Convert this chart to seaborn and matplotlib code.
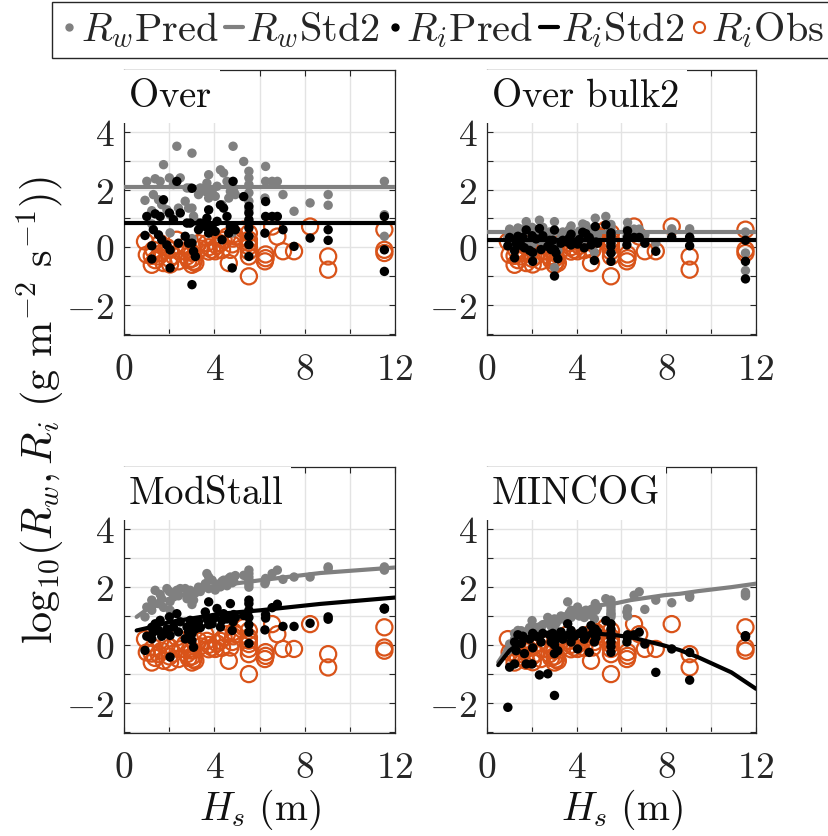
import numpy as np
import pandas as pd
import matplotlib
matplotlib.use('Agg')
import matplotlib.pyplot as plt
import seaborn as sns
from matplotlib.lines import Line2D

# ---------------- data ----------------
hs = [0.93, 1.01, 1.23, 1.23, 1.30, 1.38, 1.53, 1.60, 1.67, 1.75,
      1.90, 2.01, 2.04, 2.04, 2.19, 2.34, 2.41, 2.49, 2.71, 2.79,
      2.86, 2.93, 3.01, 3.01, 3.01, 3.08, 3.16, 3.30, 3.38, 3.60,
      3.67, 3.75, 3.75, 3.90, 4.04, 4.12, 4.27, 4.34, 4.41, 4.56,
      4.64, 4.71, 4.79, 4.83, 4.86, 4.93, 5.30, 5.53, 5.53, 5.53,
      5.53, 5.53, 5.53, 5.53, 6.24, 6.27, 6.27, 6.56, 6.79, 7.04,
      7.53, 8.24, 9.04, 9.04, 11.53, 11.53, 11.53]

ri_obs = [0.20, -0.26, -0.61, -0.30, -0.09, -0.45, -0.32, 0.14, -0.20, -0.55,
          0.00, -0.40, -0.09, -0.60, -0.30, 0.26, -0.49, -0.15, 0.03, -0.32,
          -0.45, -0.14, -0.61, -0.40, -0.20, -0.50, -0.55, 0.14, -0.05, 0.37,
          0.14, -0.15, 0.00, -0.09, -0.14, 0.05, 0.14, -0.10, 0.25, 0.37,
          -0.55, -0.09, 0.10, 0.30, 0.45, 0.37, 0.61, 0.49, 0.26, 0.03,
          -0.14, -0.32, 0.15, -1.01, -0.49, -0.38, -0.25, 0.72, 0.37, -0.14,
          -0.14, 0.72, -0.32, -0.78, 0.61, -0.09, -0.20]

ri_over = [0.41, 1.07, 0.05, -0.41, 0.61, 1.16, 0.43, 1.07, 0.26, 1.65,
           0.08, 1.19, -0.09, -0.72, 0.96, 2.29, 0.14, 1.19, 0.38, 0.84,
           0.14, 0.84, 2.05, 0.14, -1.30, -0.14, -0.32, 0.61, 0.84, 0.72,
           1.01, 1.30, 0.49, 0.72, 0.55, 0.90, 1.47, 0.26, 1.36, 1.07,
           0.49, 0.72, -0.72, 2.29, 0.72, 0.61, 1.76, 1.42, 1.19, 0.96,
           0.67, 0.38, 0.09, -0.32, 0.49, 1.07, 1.59, 1.07, 1.07, 0.61,
           0.03, 0.32, 0.61, 0.24, 1.07, -0.09, -0.84]
rw_over = [1.63, 2.29, 1.27, 0.81, 1.83, 2.38, 1.65, 2.29, 1.48, 2.87,
           1.30, 2.41, 1.13, 0.50, 2.18, 3.51, 1.36, 2.41, 1.60, 2.06,
           1.36, 2.06, 3.27, 1.36, 0.30, 1.08, 0.90, 1.83, 2.06, 1.94,
           2.23, 2.52, 1.71, 1.94, 1.77, 2.12, 2.69, 1.48, 2.58, 2.29,
           1.71, 1.94, 0.50, 3.51, 1.94, 1.83, 2.98, 2.64, 2.41, 2.18,
           1.89, 1.60, 1.31, 0.90, 1.71, 2.29, 2.81, 2.29, 2.29, 1.83,
           1.25, 1.54, 1.83, 1.46, 2.29, 1.13, 0.38]

ri_bulk2 = [0.05, 0.34, -0.12, -0.37, 0.14, 0.38, 0.06, 0.34, -0.02, 0.60,
            -0.11, 0.40, -0.18, -0.49, 0.29, 0.65, -0.08, 0.40, 0.03, 0.24,
            -0.08, 0.24, 0.60, -0.08, -1.00, -0.20, -0.40, 0.14, 0.24, 0.18,
            0.32, 0.45, 0.08, 0.18, 0.11, 0.27, 0.52, -0.02, 0.47, 0.34,
            0.08, 0.18, -0.46, 0.72, 0.18, 0.14, 0.78, 0.50, 0.40, 0.29,
            0.16, 0.03, -0.20, -0.49, 0.08, 0.34, 0.57, 0.34, 0.34, 0.14,
            -0.14, 0.35, 0.35, 0.05, 0.24, -0.49, -1.10]
rw_bulk2 = [0.34, 0.63, 0.17, -0.08, 0.43, 0.67, 0.35, 0.63, 0.27, 0.89,
            0.18, 0.69, 0.11, -0.20, 0.58, 0.94, 0.21, 0.69, 0.32, 0.53,
            0.21, 0.53, 0.89, 0.21, -0.71, 0.09, -0.11, 0.43, 0.53, 0.47,
            0.61, 0.74, 0.37, 0.47, 0.40, 0.56, 0.81, 0.27, 0.76, 0.63,
            0.37, 0.47, -0.17, 1.01, 0.47, 0.43, 1.07, 0.79, 0.69, 0.58,
            0.45, 0.32, 0.09, -0.20, 0.37, 0.63, 0.86, 0.63, 0.63, 0.43,
            0.15, 0.64, 0.64, 0.34, 0.53, -0.20, -0.81]

ri_modstall = [-0.19, 0.30, 0.21, 0.61, 0.45, 0.73, 0.50, 0.85, 0.30, 0.39,
               0.55, 0.97, 0.33, -0.42, 0.62, 1.08, 0.45, 0.80, 0.21, 0.62,
               0.45, 0.85, 0.73, 0.15, 0.39, -0.08, 0.55, 0.80, 0.60, 1.14,
               0.90, 1.49, 0.70, 0.73, 0.95, 1.26, 0.62, 0.85, 1.08, 0.90,
               1.00, 1.43, 0.50, 0.80, 1.05, 0.95, 1.02, 1.55, 1.43, 1.20,
               0.95, 0.70, 0.45, 0.05, 0.52, 0.93, 1.05, 1.29, 1.41, 0.64,
               0.64, 0.75, 0.97, 0.89, 1.26, 1.24, 1.27]
rw_modstall = [0.97, 1.31, 1.20, 1.55, 1.40, 1.89, 1.43, 1.75, 1.60, 1.30,
               1.95, 1.85, 1.50, 1.20, 1.66, 1.89, 1.70, 1.95, 1.95, 1.60,
               1.75, 1.89, 1.55, 1.70, 1.40, 1.55, 1.80, 2.00, 1.85, 2.12,
               2.47, 2.35, 1.95, 2.24, 1.90, 2.10, 2.01, 2.20, 2.24, 2.05,
               2.30, 2.35, 2.15, 2.30, 2.20, 2.40, 2.41, 2.59, 2.47, 2.35,
               2.20, 2.10, 2.00, 2.25, 2.12, 2.30, 2.20, 2.47, 2.59, 2.27,
               2.35, 2.35, 2.70, 2.65, 2.70, 2.59, 2.65]

ri_mincog = [-2.16, -0.77, -0.66, 0.10, -0.20, 0.35, 0.05, 0.30, -0.30, -0.66,
             0.20, -0.66, 0.40, -0.10, 0.30, -1.04, 0.10, 0.40, -1.00, 0.35,
             0.10, 0.40, -1.75, 0.00, -0.30, 0.20, -0.20, 0.45, 0.20, 0.73,
             0.35, 0.10, 0.50, 0.30, -0.14, 0.40, 0.49, 0.20, 0.30, -0.26,
             0.67, 0.40, 0.10, 0.55, 0.25, 0.45, 0.84, 0.73, 0.55, 0.40,
             0.25, 0.10, -0.05, -0.26, 0.10, 0.35, 0.25, 0.35, 0.44, 0.03,
             -0.95, -0.14, -0.26, -1.22, 0.30, 0.28, 0.32]
rw_mincog = [-0.20, 0.03, 0.20, 0.40, 0.30, 0.50, 0.49, 0.40, 0.30, 0.45,
             0.60, 0.84, 0.50, 0.40, 0.60, 0.55, 0.61, 0.70, 0.95, 0.75,
             0.65, 0.80, 0.70, 0.60, 0.90, 0.75, 0.85, 1.00, 0.90, 1.49,
             1.10, 0.95, 1.20, 1.05, 1.31, 1.00, 1.15, 0.95, 1.20, 1.05,
             1.10, 1.25, 0.90, 1.43, 1.20, 1.30, 1.60, 1.55, 1.40, 1.31,
             1.20, 1.10, 0.97, 1.05, 1.14, 1.00, 1.25, 1.72, 1.84, 1.23,
             1.55, 1.46, 1.70, 1.65, 1.82, 1.70, 1.76]

# Std2 fit curves
flat_hs = [0.0, 12.0]
over_rw_std = [2.10, 2.10]
over_ri_std = [0.84, 0.84]
bulk2_rw_std = [0.53, 0.53]
bulk2_ri_std = [0.24, 0.24]
modstall_hs = [0.56, 1.0, 1.6, 2.0, 3.5, 4.27, 6.05, 8.7, 12.0]
modstall_rw_std = [0.97, 1.22, 1.49, 1.60, 1.95, 2.06, 2.24, 2.49, 2.68]
modstall_ri_std = [0.50, 0.58, 0.70, 0.79, 0.98, 1.08, 1.20, 1.42, 1.64]
mincog_hs = [0.5, 1.0, 1.5, 2.0, 2.7, 3.5, 4.9, 5.8, 6.4, 7.9, 8.6, 9.4, 10.9, 12.0]
mincog_rw_std = [-0.60, 0.00, 0.35, 0.60, 0.85, 1.07, 1.36, 1.45, 1.55, 1.72, 1.77, 1.86, 2.00, 2.12]
mincog_ri_std = [-0.70, -0.20, 0.10, 0.25, 0.36, 0.40, 0.39, 0.33, 0.27, -0.02, -0.18, -0.42, -0.95, -1.52]

panel_titles = ['Over', 'Over bulk2', 'ModStall', 'MINCOG']
x_ticks = [0, 2, 4, 6, 8, 10, 12]
x_ticklabels = ['0', '', '4', '', '8', '', '12']
y_ticks = [-3, -2, -1, 0, 1, 2, 3, 4]
y_ticklabels = ['', '-2', '', '0', '', '2', '', '4']

legend_labels = [r'$R_w\mathrm{Pred}$', r'$R_w\mathrm{Std2}$',
                 r'$R_i\mathrm{Pred}$', r'$R_i\mathrm{Std2}$', r'$R_i\mathrm{Obs}$']

# ---------------- style ----------------
sns.set_theme(style='whitegrid')
plt.rcParams['font.family'] = ['DejaVu Serif']
plt.rcParams['mathtext.fontset'] = 'cm'

GRAY = '#808080'
BLACK = '#000000'
ORANGE = '#D95319'
FS = 27
LFS = 29

W, H = 829, 836
fig = plt.figure(figsize=(W / 100, H / 100), dpi=100)
fig.patch.set_facecolor('white')

def frac(l, t, r, b):
    return [l / W, 1 - b / H, (r - l) / W, (b - t) / H]

boxes = [frac(124, 70, 395, 335), frac(487, 70, 756, 335),
         frac(124, 467, 395, 733), frac(487, 467, 756, 733)]

panels = [
    (rw_over, ri_over, flat_hs, over_rw_std, over_ri_std),
    (rw_bulk2, ri_bulk2, flat_hs, bulk2_rw_std, bulk2_ri_std),
    (rw_modstall, ri_modstall, modstall_hs, modstall_rw_std, modstall_ri_std),
    (rw_mincog, ri_mincog, mincog_hs, mincog_rw_std, mincog_ri_std),
]

def mt(s):
    return '$' + s + '$' if s else ''

for k, (box, (rw, ri, lhs, rws, ris), title) in enumerate(zip(boxes, panels, panel_titles)):
    ax = fig.add_axes(box)
    ax.set_facecolor('white')
    df = pd.DataFrame({'Hs': hs, 'Rw': rw, 'Ri': ri, 'Obs': ri_obs})
    ldf = pd.DataFrame({'Hs': lhs, 'Rw': rws, 'Ri': ris})

    sns.scatterplot(data=df, x='Hs', y='Obs', ax=ax, s=135, marker='o',
                    facecolors='none', edgecolor=ORANGE, linewidth=1.6, zorder=2)
    sns.scatterplot(data=df, x='Hs', y='Rw', ax=ax, s=46, color=GRAY,
                    edgecolor='none', linewidth=0, zorder=3)
    sns.lineplot(data=ldf, x='Hs', y='Rw', ax=ax, color=GRAY, lw=3,
                 sort=False, estimator=None, zorder=4)
    sns.scatterplot(data=df, x='Hs', y='Ri', ax=ax, s=46, color=BLACK,
                    edgecolor='none', linewidth=0, zorder=5)
    sns.lineplot(data=ldf, x='Hs', y='Ri', ax=ax, color=BLACK, lw=3,
                 sort=False, estimator=None, zorder=6)

    ax.set_xlim(0, 12)
    ax.set_ylim(-3.05, 6.16)
    ax.set_xticks(x_ticks)
    ax.set_xticklabels([mt(s) for s in x_ticklabels], fontsize=FS)
    ax.set_yticks(y_ticks)
    ax.set_yticklabels([mt(s) for s in y_ticklabels], fontsize=FS)
    ax.set_xlabel('')
    ax.set_ylabel('')
    ax.grid(True, color='#e3e3e3', lw=1.0)
    ax.tick_params(axis='both', direction='in', length=4, width=0.8,
                   color='#262626', top=True, right=True, bottom=True, left=True,
                   labelcolor='#262626')
    ax.tick_params(axis='x', pad=12)
    ax.tick_params(axis='y', pad=7)
    for sp in ax.spines.values():
        sp.set_color('#262626')
        sp.set_linewidth(0.9)
        sp.set_zorder(2.5)
    ax.text(0.015, 0.86, r'$\mathrm{' + title.replace(' ', r'\ ') + '}$',
            transform=ax.transAxes, ha='left', va='baseline', fontsize=28,
            color='#111111', zorder=10,
            bbox=dict(boxstyle='square,pad=0.2', facecolor='white', edgecolor='none'))

fig.text(40 / W, 1 - 410 / H,
         r'$\mathrm{log}_{10}(R_w, R_i\ (\mathrm{g\ m}^{-2}\ \mathrm{s}^{-1}))$',
         rotation=90, ha='center', va='center', fontsize=30.5, color='#111111')
for cx in [(124 + 395) / 2, (487 + 756) / 2]:
    fig.text(cx / W, 1 - 810 / H, r'$H_s\ (\mathrm{m})$', ha='center', va='center',
             fontsize=28.5, color='#111111')

handles = [
    Line2D([], [], marker='o', color=GRAY, linestyle='', markersize=5),
    Line2D([], [], color=GRAY, lw=3),
    Line2D([], [], marker='o', color=BLACK, linestyle='', markersize=5),
    Line2D([], [], color=BLACK, lw=3),
    Line2D([], [], marker='o', linestyle='', markersize=8, markerfacecolor='none',
           markeredgecolor=ORANGE, markeredgewidth=1.5),
]
leg = fig.legend(handles, legend_labels, loc='upper left',
                 bbox_to_anchor=(52 / W, 1 - 2 / H), ncol=5, frameon=True,
                 fancybox=False, fontsize=LFS, handlelength=0.46, handletextpad=0.06,
                 columnspacing=0.15, borderpad=0.2, borderaxespad=0)
leg.get_frame().set_edgecolor('#262626')
leg.get_frame().set_linewidth(1.0)
leg.get_frame().set_facecolor('white')
leg.get_frame().set_alpha(1)

fig.savefig('out.png', dpi=100, facecolor='white')
